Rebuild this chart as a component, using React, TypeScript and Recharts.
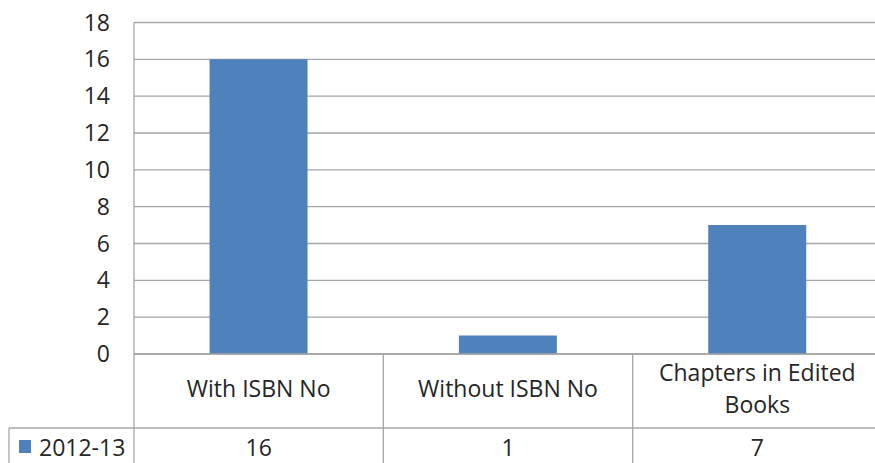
import React from 'react';
import { BarChart, Bar, XAxis, YAxis, CartesianGrid } from 'recharts';

const categories = ['With ISBN No', 'Without ISBN No', 'Chapters in Edited Books'];
const seriesName = '2012-13';
const values = [16, 1, 7];
const yTicks = [0, 2, 4, 6, 8, 10, 12, 14, 16, 18];

const data = categories.map((c, i) => ({ name: c, value: values[i] }));

const W = 890;
const H = 470;
const PLOT_LEFT = 134;
const PLOT_RIGHT = 882;
const PLOT_BOTTOM = 354;
const ROW_Y = 428;
const LEG_X = 9;
const GRID = '#a6a6a6';
const TXT = '#262626';
const FONT = '"Open Sans", sans-serif';
const FS = 23;
const BAR = '#4f81bd';

const band = (PLOT_RIGHT - PLOT_LEFT) / categories.length;

function wrap(label: string, max = 18): string[] {
  const words = label.split(' ');
  const lines: string[] = [];
  let cur = '';
  for (const w of words) {
    const t = cur ? cur + ' ' + w : w;
    if (t.length > max && cur) {
      lines.push(cur);
      cur = w;
    } else cur = t;
  }
  if (cur) lines.push(cur);
  return lines;
}

const XTick = (props: any) => {
  const { x, payload, index } = props;
  const lines = wrap(String(payload.value));
  const lh = 32;
  const base = 397 - ((lines.length - 1) * lh) / 2;
  return (
    <g>
      {index === 0 && (
        <g>
          <line x1={PLOT_LEFT} x2={PLOT_LEFT} y1={PLOT_BOTTOM} y2={H} stroke={GRID} strokeWidth={1.3} />
          <line x1={LEG_X} x2={PLOT_RIGHT} y1={ROW_Y} y2={ROW_Y} stroke={GRID} strokeWidth={1.3} />
          <line x1={LEG_X} x2={LEG_X} y1={ROW_Y} y2={H} stroke={GRID} strokeWidth={1.3} />
          <rect x={19} y={440} width={12} height={13} fill={BAR} />
          <text x={39} y={456} fontFamily={FONT} fontSize={FS} fill={TXT}>
            {seriesName}
          </text>
        </g>
      )}
      <line x1={x + band / 2} x2={x + band / 2} y1={PLOT_BOTTOM} y2={H} stroke={GRID} strokeWidth={1.3} />
      {lines.map((l, i) => (
        <text key={i} x={x} y={base + i * lh} textAnchor="middle" fontFamily={FONT} fontSize={FS} fill={TXT}>
          {l}
        </text>
      ))}
      <text x={x} y={456} textAnchor="middle" fontFamily={FONT} fontSize={FS} fill={TXT}>
        {values[index]}
      </text>
    </g>
  );
};

const YTick = (props: any) => {
  const { x, y, payload } = props;
  return (
    <text x={x} y={y} dy={8} textAnchor="end" fontFamily={FONT} fontSize={FS} fill={TXT}>
      {payload.value}
    </text>
  );
};

export default function App() {
  return (
    <div style={{ position: 'absolute', left: 0, top: 0, width: 875, height: 463, overflow: 'hidden', background: '#fff' }}>
      <BarChart
        width={W}
        height={H}
        data={data}
        margin={{ top: 22.5, right: W - PLOT_RIGHT, bottom: 0, left: 0 }}
        barCategoryGap="30.3%"
      >
        <CartesianGrid vertical={false} stroke={GRID} strokeWidth={1.3} />
        <YAxis
          width={PLOT_LEFT}
          domain={[0, 18]}
          ticks={yTicks}
          interval={0}
          tickLine={false}
          tickSize={0}
          tickMargin={24}
          axisLine={{ stroke: GRID, strokeWidth: 1.3 }}
          tick={<YTick />}
        />
        <XAxis
          dataKey="name"
          height={H - PLOT_BOTTOM}
          tickLine={false}
          tickSize={0}
          tickMargin={0}
          interval={0}
          axisLine={{ stroke: GRID, strokeWidth: 1.3 }}
          tick={<XTick />}
        />
        <Bar dataKey="value" fill={BAR} isAnimationActive={false} />
      </BarChart>
    </div>
  );
}
